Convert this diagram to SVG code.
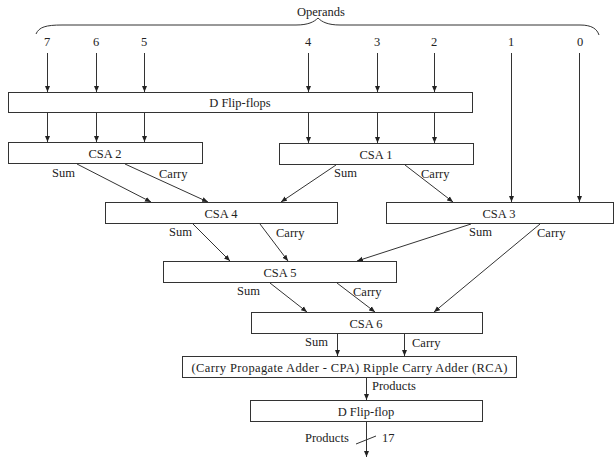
<svg xmlns="http://www.w3.org/2000/svg" width="615" height="459" viewBox="0 0 615 459">
<style>
.box{fill:#fff;stroke:#333;stroke-width:1}
.t{font-family:"Liberation Serif","Times New Roman",serif;font-size:12.5px;fill:#222}
.c{text-anchor:middle}
.ln{stroke:#333;stroke-width:1;fill:none}
.ar{stroke:#333;stroke-width:1;fill:none;marker-end:url(#ah)}
</style>
<defs>
<marker id="ah" viewBox="0 0 6 6" refX="6" refY="3" markerWidth="6" markerHeight="6" markerUnits="userSpaceOnUse" orient="auto">
<path d="M0,0.5 L6,3 L0,5.5 z" fill="#222"/>
</marker>
</defs>
<rect width="615" height="459" fill="#fff"/>
<g id="operands">
<path class="ln" d="M36,34 C39,27 46,25 62,25 L296,25 C308,25 314,22 318,18 C322,22 328,25 340,25 L580,25 C592,25 597,29 599,35"/>
<text class="t c" x="321" y="16">Operands</text>
<text class="t c" x="47" y="46">7</text>
<text class="t c" x="96" y="46">6</text>
<text class="t c" x="144" y="46">5</text>
<text class="t c" x="308" y="46">4</text>
<text class="t c" x="377" y="46">3</text>
<text class="t c" x="434" y="46">2</text>
<text class="t c" x="511" y="46">1</text>
<text class="t c" x="580" y="46">0</text>
</g>
<g id="dff">
<rect class="box" x="8.5" y="92.5" width="464" height="20"/>
<text class="t c" x="240" y="106.5">D Flip-flops</text>
</g>
<g id="csa2">
<rect class="box" x="8.5" y="142.5" width="194" height="21"/>
<text class="t c" x="105" y="157.5">CSA 2</text>
</g>
<g id="csa1">
<rect class="box" x="279.5" y="143.5" width="194" height="21"/>
<text class="t c" x="376" y="158.5">CSA 1</text>
</g>
<g id="csa4">
<rect class="box" x="105.5" y="202.5" width="232" height="21"/>
<text class="t c" x="221" y="217.5">CSA 4</text>
</g>
<g id="csa3">
<rect class="box" x="386.5" y="202.5" width="227" height="21"/>
<text class="t c" x="499" y="217.5">CSA 3</text>
</g>
<g id="csa5">
<rect class="box" x="163.5" y="261.5" width="233" height="21"/>
<text class="t c" x="280" y="276.5">CSA 5</text>
</g>
<g id="csa6">
<rect class="box" x="251.5" y="312.5" width="231" height="21"/>
<text class="t c" x="366" y="327.5">CSA 6</text>
</g>
<g id="cpa">
<rect class="box" x="182.5" y="356.5" width="334" height="21"/>
<text class="t c" x="349.5" y="371.5" textLength="316" lengthAdjust="spacing">(Carry Propagate Adder - CPA) Ripple Carry Adder (RCA)</text>
</g>
<g id="dff2">
<rect class="box" x="250.5" y="400.5" width="232" height="21"/>
<text class="t c" x="366" y="415.5">D Flip-flop</text>
</g>
<g id="connectors">
<line class="ar" x1="47.5" y1="53" x2="47.5" y2="92"/>
<line class="ar" x1="96.5" y1="53" x2="96.5" y2="92"/>
<line class="ar" x1="144.5" y1="53" x2="144.5" y2="92"/>
<line class="ar" x1="308.5" y1="53" x2="308.5" y2="92"/>
<line class="ar" x1="377.5" y1="53" x2="377.5" y2="92"/>
<line class="ar" x1="434.5" y1="53" x2="434.5" y2="92"/>
<line class="ar" x1="511.5" y1="53" x2="511.5" y2="202"/>
<line class="ar" x1="579.5" y1="53" x2="579.5" y2="202"/>
<line class="ar" x1="47.5" y1="113" x2="47.5" y2="142"/>
<line class="ar" x1="96.5" y1="113" x2="96.5" y2="142"/>
<line class="ar" x1="144.5" y1="113" x2="144.5" y2="142"/>
<line class="ar" x1="308.5" y1="113" x2="308.5" y2="143"/>
<line class="ar" x1="377.5" y1="113" x2="377.5" y2="143"/>
<line class="ar" x1="434.5" y1="113" x2="434.5" y2="143"/>
<line class="ar" x1="77" y1="164" x2="151" y2="202"/>
<line class="ar" x1="125" y1="164" x2="208" y2="202"/>
<line class="ar" x1="336" y1="165" x2="281" y2="202"/>
<line class="ar" x1="405" y1="165" x2="453" y2="202"/>
<line class="ar" x1="193" y1="224" x2="230" y2="261"/>
<line class="ar" x1="260" y1="224" x2="288" y2="261"/>
<line class="ar" x1="471" y1="224" x2="357" y2="261"/>
<line class="ar" x1="540" y1="224" x2="434" y2="312"/>
<line class="ar" x1="270" y1="283" x2="307" y2="312"/>
<line class="ar" x1="337" y1="283" x2="375" y2="312"/>
<line class="ar" x1="337.5" y1="334" x2="337.5" y2="356"/>
<line class="ar" x1="404.5" y1="334" x2="404.5" y2="356"/>
<line class="ar" x1="366.5" y1="378" x2="366.5" y2="400"/>
<line class="ar" x1="366.5" y1="422" x2="366.5" y2="457"/>
<line class="ln" x1="356" y1="444" x2="376" y2="436"/>
</g>
<g id="labels">
<text class="t" x="52" y="177">Sum</text>
<text class="t" x="159" y="178">Carry</text>
<text class="t" x="334" y="177">Sum</text>
<text class="t" x="421" y="178">Carry</text>
<text class="t" x="169" y="236">Sum</text>
<text class="t" x="276" y="237">Carry</text>
<text class="t" x="469" y="236">Sum</text>
<text class="t" x="537" y="237">Carry</text>
<text class="t" x="237" y="295">Sum</text>
<text class="t" x="353" y="296">Carry</text>
<text class="t" x="305" y="346">Sum</text>
<text class="t" x="412" y="347">Carry</text>
<text class="t" x="372" y="390">Products</text>
<text class="t" x="305" y="442">Products</text>
<text class="t" x="382" y="442">17</text>
</g>
</svg>
